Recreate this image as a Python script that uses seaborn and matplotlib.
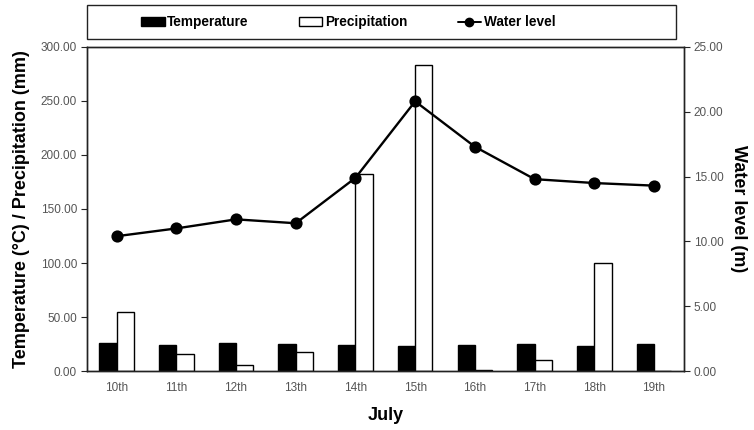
import pandas as pd
import seaborn as sns
import matplotlib.pyplot as plt
from matplotlib.lines import Line2D
from matplotlib.patches import Patch, Rectangle

days = ["10th", "11th", "12th", "13th", "14th", "15th", "16th", "17th", "18th", "19th"]
temperature = [26.0, 24.0, 26.0, 25.0, 24.5, 23.0, 24.0, 25.0, 23.5, 25.5]
precipitation = [55.0, 16.0, 6.0, 18.0, 182.0, 283.0, 1.0, 10.0, 100.0, 0.0]
water_level = [10.4, 11.0, 11.7, 11.4, 14.9, 20.8, 17.3, 14.8, 14.5, 14.3]

sns.set_theme(style="white")
plt.rcParams["font.family"] = ["Liberation Sans", "DejaVu Sans"]

bars = pd.DataFrame({
    "day": days * 2,
    "value": temperature + precipitation,
    "series": ["Temperature"] * len(days) + ["Precipitation"] * len(days),
})
levels = pd.DataFrame({"day": days, "level": water_level})

fig = plt.figure(figsize=(7.54, 4.30), dpi=100)
ax = fig.add_axes([0.115, 0.137, 0.792, 0.754])

sns.barplot(data=bars, x="day", y="value", hue="series",
            palette={"Temperature": "black", "Precipitation": "white"},
            edgecolor="black", linewidth=1, width=0.58, legend=False, ax=ax)
ax.set_xlim(-0.47, 9.52)
ax.set_ylim(0, 300)
ax.set_yticks(range(0, 301, 50))
ax.set_yticklabels([f"{v:.2f}" for v in range(0, 301, 50)])

ax2 = ax.twinx()
sns.pointplot(data=levels, x="day", y="level", color="black", markers="o",
              markersize=7.5, linewidth=1.7, ax=ax2)
ax2.set_ylim(0, 25)
ax2.set_yticks(range(0, 26, 5))
ax2.set_yticklabels([f"{v:.2f}" for v in range(0, 26, 5)])

for a in (ax, ax2):
    for sp in a.spines.values():
        sp.set_color("#222222")
        sp.set_linewidth(1.0)
ax.tick_params(axis="y", colors="#222222", labelcolor="#555555", labelsize=8.5,
               length=4, width=0.8, left=True, right=False, pad=3)
ax2.tick_params(axis="y", colors="#222222", labelcolor="#555555", labelsize=8.5,
                length=4, width=0.8, left=False, right=True, pad=3)
ax.tick_params(axis="x", length=0, labelsize=8.5, labelcolor="#555555", pad=8)

label_font = {"fontsize": 13, "fontweight": "bold", "color": "black"}
ax.set_xlabel("July", labelpad=9, **label_font)
ax.set_ylabel("Temperature (°C) / Precipitation (mm)", labelpad=8, **label_font)
ax2.set_ylabel("Water level (m)", rotation=270, labelpad=17, **label_font)

# legend box above the plot
fig.patches.append(Rectangle((0.115, 0.909), 0.781, 0.079, transform=fig.transFigure,
                             facecolor="white", edgecolor="#222222", linewidth=1.0))
handles = [
    Patch(facecolor="black", edgecolor="black", label="Temperature"),
    Patch(facecolor="white", edgecolor="black", label="Precipitation"),
    Line2D([0], [0], color="black", marker="o", markersize=6, linewidth=1.4,
           label="Water level"),
]
leg = fig.legend(handles=handles, loc="center", bbox_to_anchor=(0.462, 0.948), ncol=3,
                 frameon=False, handlelength=1.7, handleheight=0.6, handletextpad=0.2,
                 columnspacing=3.7, prop={"weight": "bold", "size": 9.8})
for t in leg.get_texts():
    t.set_color("black")

fig.savefig("out.png", dpi=100)
